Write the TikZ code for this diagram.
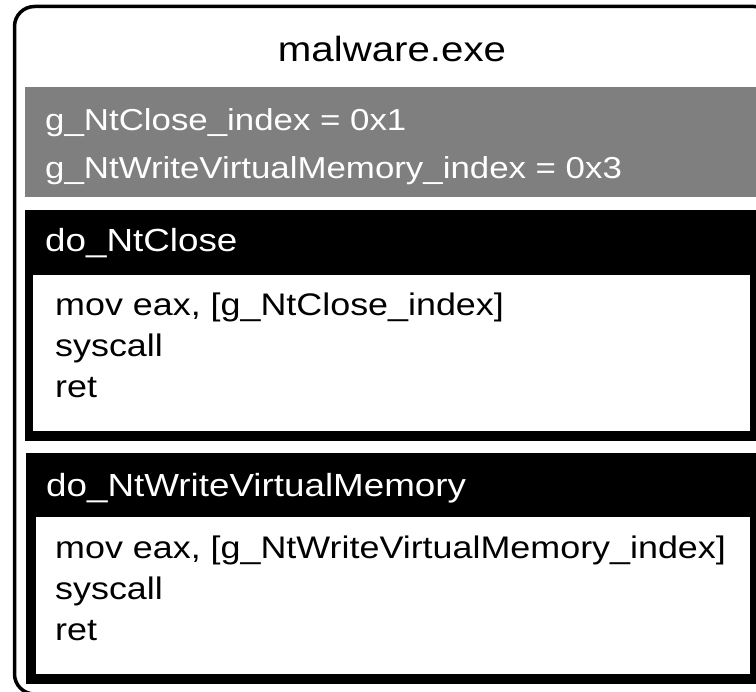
\documentclass[tikz,border=0pt]{standalone}
\usepackage{fontspec}
\setmainfont[FakeStretch=1.15]{Liberation Sans}
\definecolor{bandgray}{HTML}{7F7F7F}
\begin{document}
\begin{tikzpicture}[x=1pt,y=-1pt,
  frame/.style={draw=black,line width=3.5pt,rounded corners=20pt},
  panel/.style={rectangle,inner sep=0pt,outer sep=0pt,anchor=north west,draw=none},
  grayband/.style={panel,fill=bandgray},
  blackpanel/.style={panel,fill=black},
  codearea/.style={panel,fill=white},
  label/.style={anchor=base west,inner sep=0pt,font=\fontsize{30.3}{36}\selectfont},
  codelabel/.style={anchor=base west,inner sep=0pt,font=\fontsize{31.2}{37}\selectfont},
  headlabel/.style={anchor=base west,inner sep=0pt,text=white,font=\fontsize{32}{38}\selectfont},
  titlelabel/.style={anchor=base,inner sep=0pt,font=\fontsize{35}{42}\selectfont}]
\useasboundingbox (0,0) rectangle (756,692);
\clip (0,0) rectangle (756,692);

% outer module frame
\draw[frame] (14.5,6.5) rectangle (774,694);
\node[titlelabel] (title) at (392,62) {malware.exe};

% global index variables
\node[grayband,minimum width=755pt,minimum height=110pt] (globals) at (25,87) {};
\node[label,text=white] (g1) at (45,131) {g\_NtClose\_index = 0x1};
\node[label,text=white] (g2) at (45,179) {g\_NtWriteVirtualMemory\_index = 0x3};

% first stub
\node[blackpanel,minimum width=755pt,minimum height=231pt] (stubA) at (25,210) {};
\node[headlabel] (stubAhead) at (45,252) {do\_NtClose};
\node[codearea,minimum width=717pt,minimum height=156pt] (codeA) at (33,275) {};
\node[codelabel] (a1) at (55,316) {mov eax, [g\_NtClose\_index]};
\node[codelabel] (a2) at (55,357) {syscall};
\node[codelabel] (a3) at (55,398) {ret};

% second stub
\node[blackpanel,minimum width=754pt,minimum height=231pt] (stubB) at (26,453) {};
\node[headlabel] (stubBhead) at (46,497) {do\_NtWriteVirtualMemory};
\node[codearea,minimum width=714pt,minimum height=157pt] (codeB) at (36,517) {};
\node[codelabel] (b1) at (55,559) {mov eax, [g\_NtWriteVirtualMemory\_index]};
\node[codelabel] (b2) at (55,600) {syscall};
\node[codelabel] (b3) at (55,641) {ret};
\end{tikzpicture}
\end{document}
